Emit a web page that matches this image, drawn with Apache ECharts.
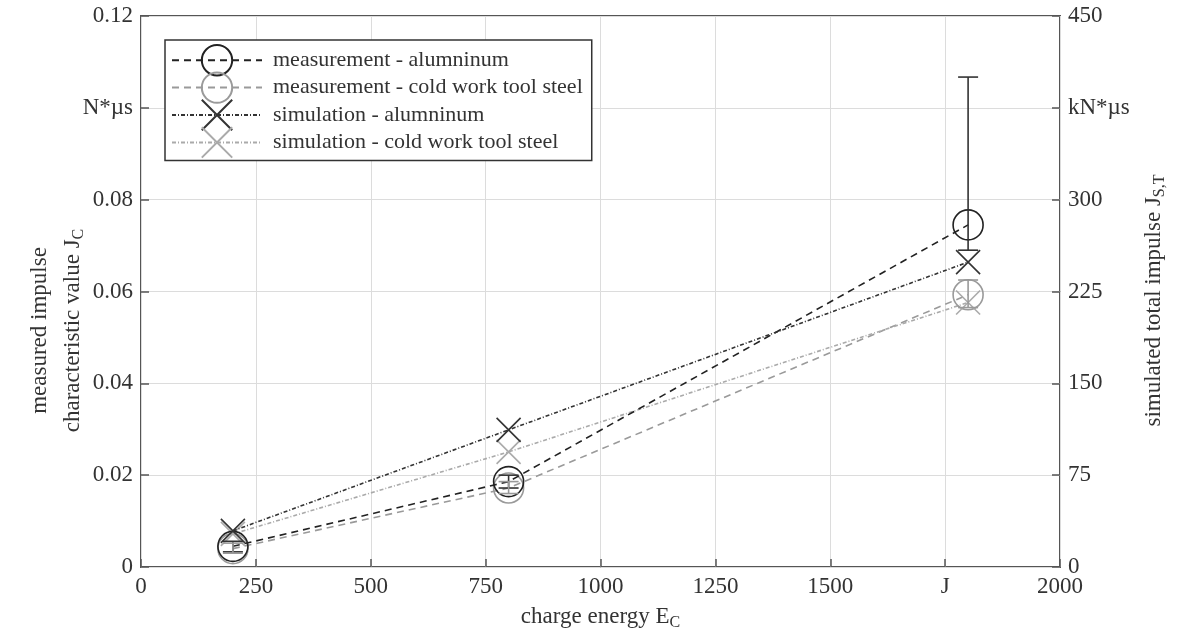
<!DOCTYPE html>
<html>
<head>
<meta charset="utf-8">
<script src="https://cdn.jsdelivr.net/npm/echarts@6/dist/echarts.min.js"></script>
<style>
  html, body { margin: 0; padding: 0; background: #fff; }
  #chart { width: 1180px; height: 640px; }
</style>
</head>
<body>
<div id="chart"></div>
<script>
// charge energy in J
var energy = [200, 800, 1800];

// measured impulse characteristic value (N*us)
var measAl = [0.0045, 0.0186, 0.0745];
var measAlLow = [0.0033, 0.0172, 0.0690];
var measAlHigh = [0.0056, 0.0200, 0.1067];
var measSteel = [0.0040, 0.0172, 0.0593];
var measSteelLow = [0.0030, 0.0160, 0.0565];
var measSteelHigh = [0.0052, 0.0186, 0.0625];

// simulated total impulse (kN*us), right axis
var simAl = [29.5, 112, 249];
var simSteel = [27, 94, 216];

var names = [
  'measurement - alumninum',
  'measurement - cold work tool steel',
  'simulation - alumninum',
  'simulation - cold work tool steel'
];

var FONT = 'Liberation Serif';
var AXIS = '#555';
var crossPath = 'path://M0,0L10,10M10,0L0,10';

function pairs(xs, ys) {
  return xs.map(function (x, i) { return [x, ys[i]]; });
}
function errRows(xs, lo, hi) {
  return xs.map(function (x, i) { return [x, lo[i], hi[i]]; });
}
function errorBar(color) {
  return function (params, api) {
    var x = api.value(0);
    var pLo = api.coord([x, api.value(1)]);
    var pHi = api.coord([x, api.value(2)]);
    var w = 10;
    var st = { stroke: color, lineWidth: 1.6 };
    return {
      type: 'group',
      children: [
        { type: 'line', shape: { x1: pLo[0], y1: pLo[1], x2: pHi[0], y2: pHi[1] }, style: st },
        { type: 'line', shape: { x1: pHi[0] - w, y1: pHi[1], x2: pHi[0] + w, y2: pHi[1] }, style: st },
        { type: 'line', shape: { x1: pLo[0] - w, y1: pLo[1], x2: pLo[0] + w, y2: pLo[1] }, style: st }
      ]
    };
  };
}

var sub = { fontSize: 16, fontFamily: FONT, color: '#333', padding: [12, 0, 0, 0] };

var myChart = echarts.init(document.getElementById('chart'));
var option = {
  animation: false,
  backgroundColor: '#fff',
  textStyle: { fontFamily: FONT },
  grid: {
    left: 141, right: 120, top: 16, bottom: 73,
    show: true, borderColor: AXIS, borderWidth: 2
  },
  legend: {
    data: names,
    orient: 'vertical',
    left: 165, top: 40,
    itemWidth: 90, itemHeight: 38, itemGap: -5,
    padding: [4, 9, 2, 6],
    borderColor: '#333', borderWidth: 1.5,
    backgroundColor: '#fff',
    textStyle: { fontFamily: FONT, fontSize: 22, color: '#333', padding: [0, 0, 0, 6] }
  },
  xAxis: {
    type: 'value', min: 0, max: 2000, interval: 250,
    name: 'charge energy E{sub|C}',
    nameLocation: 'middle', nameGap: 36,
    nameTextStyle: { fontFamily: FONT, fontSize: 23, color: '#333', rich: { sub: sub } },
    axisLine: { show: false },
    axisTick: { show: true, inside: true, length: 8, lineStyle: { color: AXIS, width: 1.5 } },
    axisLabel: {
      fontFamily: FONT, fontSize: 23, color: '#333', margin: 8,
      formatter: function (v) { return v === 1750 ? 'J' : String(v); }
    },
    splitLine: { show: true, lineStyle: { color: '#dcdcdc', width: 1 } }
  },
  yAxis: [{
    type: 'value', min: 0, max: 0.12, interval: 0.02,
    name: 'measured impulse\ncharacteristic value J{sub|C}',
    nameLocation: 'middle', nameGap: 52, nameRotate: 90, nameMoveOverlap: false,
    nameTextStyle: {
      fontFamily: FONT, fontSize: 23, color: '#333', lineHeight: 33,
      padding: [0, 78, 0, 0], rich: { sub: sub }
    },
    axisLine: { show: false },
    axisTick: { show: true, inside: true, length: 8, lineStyle: { color: AXIS, width: 1.5 } },
    axisLabel: {
      fontFamily: FONT, fontSize: 23, color: '#333', margin: 8,
      formatter: function (v) {
        if (Math.abs(v - 0.1) < 1e-9) return 'N*µs';
        return v === 0 ? '0' : v.toFixed(2);
      }
    },
    splitLine: { show: true, lineStyle: { color: '#dcdcdc', width: 1 } }
  }, {
    type: 'value', min: 0, max: 450, interval: 75, position: 'right',
    name: 'simulated total impulse J{sub|S,T}',
    nameLocation: 'middle', nameGap: 80, nameRotate: 90,
    nameTextStyle: {
      fontFamily: FONT, fontSize: 23, color: '#333',
      padding: [0, 18, 0, 0], rich: { sub: sub }
    },
    axisLine: { show: false },
    axisTick: { show: true, inside: true, length: 8, lineStyle: { color: AXIS, width: 1.5 } },
    axisLabel: {
      fontFamily: FONT, fontSize: 23, color: '#333', margin: 8,
      formatter: function (v) { return v === 375 ? 'kN*µs' : String(v); }
    },
    splitLine: { show: false }
  }],
  series: [{
    name: names[0], type: 'line', data: pairs(energy, measAl),
    symbol: 'circle', symbolSize: 30, z: 4,
    lineStyle: { color: '#222', width: 1.6, type: [7, 5] },
    itemStyle: { color: 'transparent', borderColor: '#222', borderWidth: 1.6 }
  }, {
    name: names[1], type: 'line', data: pairs(energy, measSteel),
    symbol: 'circle', symbolSize: 30, z: 3,
    lineStyle: { color: '#9a9a9a', width: 1.6, type: [7, 5] },
    itemStyle: { color: 'transparent', borderColor: '#9a9a9a', borderWidth: 1.6 }
  }, {
    name: names[2], type: 'line', yAxisIndex: 1, data: pairs(energy, simAl),
    symbol: crossPath, symbolSize: 24, z: 4,
    lineStyle: { color: '#333', width: 1.6, type: [4, 2, 1, 2] },
    itemStyle: { color: 'transparent', borderColor: '#333', borderWidth: 1.6 }
  }, {
    name: names[3], type: 'line', yAxisIndex: 1, data: pairs(energy, simSteel),
    symbol: crossPath, symbolSize: 24, z: 3,
    lineStyle: { color: '#aaaaaa', width: 1.6, type: [4, 2, 1, 2] },
    itemStyle: { color: 'transparent', borderColor: '#aaaaaa', borderWidth: 1.6 }
  }, {
    name: 'err-al', type: 'custom', z: 5,
    renderItem: errorBar('#333'),
    data: errRows(energy, measAlLow, measAlHigh)
  }, {
    name: 'err-steel', type: 'custom', z: 5,
    renderItem: errorBar('#999'),
    data: errRows(energy, measSteelLow, measSteelHigh)
  }]
};
myChart.setOption(option);
</script>
</body>
</html>
